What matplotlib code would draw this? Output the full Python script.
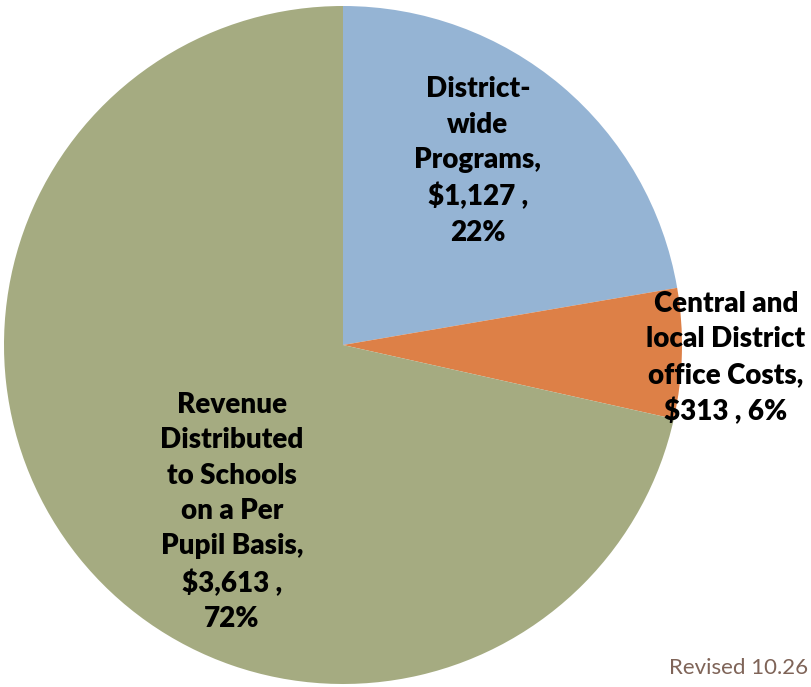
import matplotlib
matplotlib.use("Agg")
import matplotlib.pyplot as plt

# 预算分配数据
categories = ["District-\nwide\nPrograms,", "Central and\nlocal District\noffice Costs,",
              "Revenue\nDistributed\nto Schools\non a Per\nPupil Basis,"]
amounts = [1127, 313, 3613]
percents = [22, 6, 72]
colors = ["#95B4D4", "#DD8047", "#A5AB81"]

W, H = 812, 687
fig = plt.figure(figsize=(W / 100, H / 100), dpi=100)
ax = fig.add_axes([0, 0, 1, 1])

# 饼图：从正上方开始，顺时针
ax.pie(amounts, colors=colors, startangle=90, counterclock=False,
       center=(343, H - 345), radius=339,
       wedgeprops=dict(linewidth=0))
ax.set_xlim(0, W)
ax.set_ylim(0, H)
ax.set_aspect("equal")
ax.axis("off")

# 标签位置（像素）
label_pos = [(478, 161), (726, 358), (232, 512)]
for name, amt, pct, (x, y) in zip(categories, amounts, percents, label_pos):
    if pct == 6:
        txt = f"{name}\n${amt:,} , {pct}%"
    else:
        txt = f"{name}\n${amt:,} ,\n{pct}%"
    ax.text(x, H - y, txt, ha="center", va="center", fontsize=20,
            fontweight="heavy", family="Lato", linespacing=1.45, color="black")

ax.text(808, H - 668, "Revised 10.26", ha="right", va="center", fontsize=16,
        family="Lato", color="#7F6458")

fig.savefig("out.png", dpi=100)
